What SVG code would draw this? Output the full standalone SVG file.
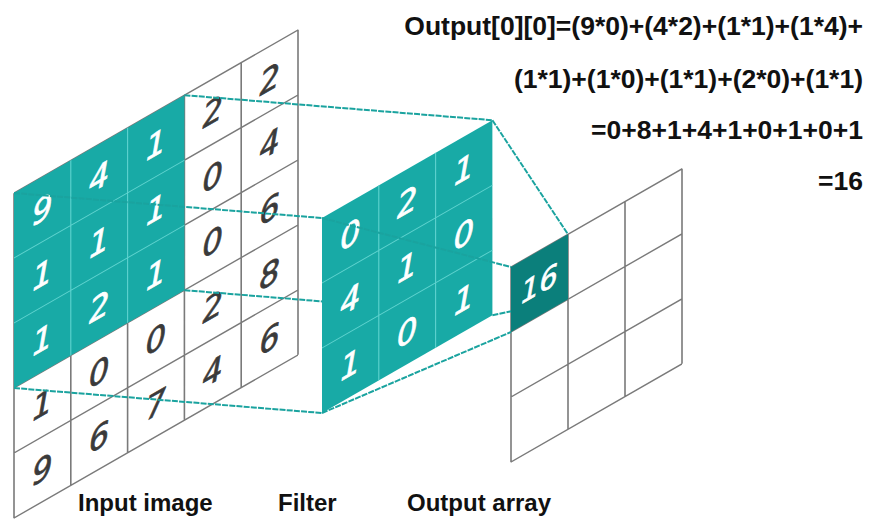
<svg xmlns="http://www.w3.org/2000/svg" width="874" height="521" viewBox="0 0 874 521">
<style>
.bg{fill:#ffffff}
.grid{fill:none;stroke:#7a7a7a;stroke-width:1.6}
.tl{fill:none;stroke:#5fd3cf;stroke-width:1.1}
.teal{fill:#18aaa6}
.dk{fill:#0b7f7b}
.d{font-family:"DejaVu Sans",sans-serif;font-style:italic;font-size:32px;text-anchor:middle;fill:#3a3a3a;stroke:#3a3a3a;stroke-width:0.7}
.w{fill:#ffffff;stroke:#ffffff}
.eq{font-family:"Liberation Sans",Arial,sans-serif;font-weight:bold;font-size:26.5px;text-anchor:end;fill:#111111}
.lab{font-family:"Liberation Sans",Arial,sans-serif;font-weight:bold;font-size:24px;fill:#111111}
.con{fill:none;stroke:#1aa39f;stroke-width:2;stroke-dasharray:6 1.2}
</style>
<rect class="bg" x="0" y="0" width="874" height="521"/>

<g id="input-image" transform="matrix(1,-0.574,0,1,14,193)">
  <path class="grid" d="M0 0V325M56.8 0V325M113.6 0V325M170.4 0V325M227.2 0V325M284 0V325M0 0H284M0 65H284M0 130H284M0 195H284M0 260H284M0 325H284"/>
  <rect class="teal" x="0" y="0" width="170.4" height="195"/>
  <path class="tl" d="M56.8 0V195M113.6 0V195M0 65H170.4M0 130H170.4"/>
  <g class="d">
    <text class="w" x="28.4" y="44">9</text><text class="w" x="85.2" y="44">4</text><text class="w" x="142" y="44">1</text><text x="198.8" y="44">2</text><text x="255.6" y="44">2</text>
    <text class="w" x="28.4" y="109">1</text><text class="w" x="85.2" y="109">1</text><text class="w" x="142" y="109">1</text><text x="198.8" y="109">0</text><text x="255.6" y="109">4</text>
    <text class="w" x="28.4" y="174">1</text><text class="w" x="85.2" y="174">2</text><text class="w" x="142" y="174">1</text><text x="198.8" y="174">0</text><text x="255.6" y="174">6</text>
    <text x="28.4" y="239">1</text><text x="85.2" y="239">0</text><text x="142" y="239">0</text><text x="198.8" y="239">2</text><text x="255.6" y="239">8</text>
    <text x="28.4" y="304">9</text><text x="85.2" y="304">6</text><text x="142" y="304">7</text><text x="198.8" y="304">4</text><text x="255.6" y="304">6</text>
  </g>
</g>

<g id="filter" transform="matrix(1,-0.574,0,1,322,218)">
  <rect class="teal" x="0" y="0" width="170.4" height="195"/>
  <path class="tl" d="M56.8 0V195M113.6 0V195M0 65H170.4M0 130H170.4"/>
  <g class="d">
    <text class="w" x="28.4" y="44">0</text><text class="w" x="85.2" y="44">2</text><text class="w" x="142" y="44">1</text>
    <text class="w" x="28.4" y="109">4</text><text class="w" x="85.2" y="109">1</text><text class="w" x="142" y="109">0</text>
    <text class="w" x="28.4" y="174">1</text><text class="w" x="85.2" y="174">0</text><text class="w" x="142" y="174">1</text>
  </g>
</g>

<g id="output-array" transform="matrix(1,-0.574,0,1,511,267)">
  <path class="grid" d="M0 0V195M57 0V195M114 0V195M171 0V195M0 0H171M0 65H171M0 130H171M0 195H171"/>
  <rect class="dk" x="0" y="0" width="57" height="65"/>
  <text class="d w" x="28.5" y="43" style="font-size:29px">16</text>
</g>

<g id="connectors">
  <path class="con" d="M14 193L322 218"/>
  <path class="con" d="M184.4 95.2L492.4 120.2"/>
  <path class="con" d="M184.4 290.2L322 301.4"/>
  <path class="con" d="M14 388L322 413"/>
  <path class="con" d="M492.4 120.2L568 234.3"/>
  <path class="con" d="M322 218L511 267"/>
  <path class="con" d="M492.4 315.2L511 311.3"/>
  <path class="con" d="M322 413L511 332"/>
</g>

<g id="equation">
  <text class="eq" x="863" y="34.5">Output[0][0]=(9*0)+(4*2)+(1*1)+(1*4)+</text>
  <text class="eq" x="863" y="88">(1*1)+(1*0)+(1*1)+(2*0)+(1*1)</text>
  <text class="eq" x="863" y="138.5">=0+8+1+4+1+0+1+0+1</text>
  <text class="eq" x="863" y="190">=16</text>
</g>

<g id="labels">
  <text class="lab" x="78" y="511">Input image</text>
  <text class="lab" x="278" y="511">Filter</text>
  <text class="lab" x="407" y="511">Output array</text>
</g>
</svg>
